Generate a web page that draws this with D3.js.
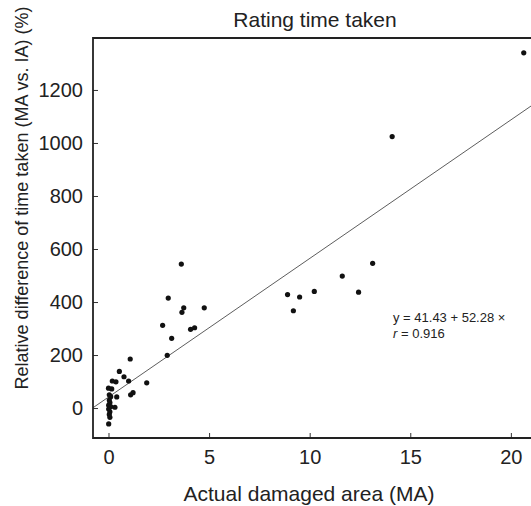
<!DOCTYPE html>
<html>
<head>
<meta charset="utf-8">
<script src="https://cdn.jsdelivr.net/npm/d3@7"></script>
<style>
  body { margin: 0; background: #fff; }
  svg text { font-family: "Liberation Sans", Arial, sans-serif; fill: #222; }
</style>
</head>
<body>
<div id="chart"></div>
<script>
// data
var areaMA = [20.64, 14.1, 3.62, 2.97, 3.74, 3.65, 4.76, 2.69, 4.08, 4.28, 3.14, 2.92,
  1.08, 1.90, 0.54, 0.77, 1.0, 0.19, 0.37, 0.0, 0.16, 1.10, 1.22, 0.41, 0.32,
  0.04, 0.11, 0.04, 0.07, 0.01, 0.11, 0.01, 0.07, 0.04, 0.07, 0.01,
  8.9, 9.19, 9.5, 10.23, 11.62, 12.43, 13.13];
var relDiff = [1340, 1024, 543, 415, 378, 361, 378, 312, 297, 303, 263, 199,
  185, 95, 138, 118, 102, 102, 99, 75, 72, 50, 58, 42, 3,
  50, 43, 30, 21, 11, 5, -4, -14, -24, -35, -60,
  428, 367, 419, 440, 498, 437, 546];
var xTicks = [0, 5, 10, 15, 20];
var yTicks = [0, 200, 400, 600, 800, 1000, 1200];
var fitA = 41.43, fitB = 52.28, fitR = 0.916;

(function () {
  'use strict'

  var W = 531, H = 506;
  var margin = {top: 38, left: 93, bottom: 68};

  var x = d3.scaleLinear().domain([-0.77, 21.1]).range([margin.left, 533]);
  var y = d3.scaleLinear().domain([-113, 1396]).range([H - margin.bottom, margin.top]);

  var svg = d3.select("#chart").append("svg")
    .attr("width", W)
    .attr("height", H);

  var plot = svg.append("g");

  // regression line
  var xd = x.domain();
  plot.append("line")
    .attr("x1", x(xd[0])).attr("y1", y(fitA + fitB * xd[0]))
    .attr("x2", x(xd[1])).attr("y2", y(fitA + fitB * xd[1]))
    .attr("stroke", "#333").attr("stroke-width", 0.8);

  // points
  plot.selectAll(".dot")
    .data(areaMA.map(function (d, i) { return {x: d, y: relDiff[i]}; }))
    .enter().append("circle")
    .attr("class", "dot")
    .attr("cx", function (d) { return x(d.x); })
    .attr("cy", function (d) { return y(d.y); })
    .attr("r", 2.6)
    .attr("fill", "#111");

  // axes, ticks pointing inward
  var gx = svg.append("g")
    .attr("transform", "translate(0," + y.range()[0] + ")")
    .call(d3.axisBottom(x).tickValues(xTicks).tickFormat(d3.format("d"))
      .tickSizeInner(-5).tickSizeOuter(0).tickPadding(12));
  var gy = svg.append("g")
    .attr("transform", "translate(" + margin.left + ",0)")
    .call(d3.axisLeft(y).tickValues(yTicks).tickFormat(d3.format("d"))
      .tickSizeInner(-5).tickSizeOuter(0).tickPadding(10));

  [gx, gy].forEach(function (g) {
    g.select(".domain").remove();
    g.selectAll(".tick line").attr("stroke", "#333");
    g.selectAll(".tick text").style("font-size", "20px").attr("fill", "#222")
      .style("font-family", "'Liberation Sans', Arial, sans-serif");
  });

  // frame (top, left, bottom)
  svg.append("path")
    .attr("d", "M" + x.range()[1] + "," + y.range()[1] + "H" + margin.left +
      "V" + y.range()[0] + "H" + x.range()[1])
    .attr("fill", "none").attr("stroke", "#222").attr("stroke-width", 1.8);

  // title and labels
  svg.append("text")
    .attr("x", 315).attr("y", 27)
    .attr("text-anchor", "middle")
    .style("font-size", "21px")
    .text("Rating time taken");

  svg.append("text")
    .attr("x", 309).attr("y", 501)
    .attr("text-anchor", "middle")
    .style("font-size", "21px")
    .text("Actual damaged area (MA)");

  svg.append("text")
    .attr("transform", "translate(28,198) rotate(-90)")
    .attr("text-anchor", "middle")
    .style("font-size", "18px")
    .text("Relative difference of time taken (MA vs. IA) (%)");

  // fit annotation
  svg.append("text")
    .attr("x", 393).attr("y", 322)
    .style("font-size", "13px")
    .text("y = " + fitA + " + " + fitB + " \u00d7");
  var rt = svg.append("text")
    .attr("x", 393).attr("y", 338)
    .style("font-size", "13px");
  rt.append("tspan").style("font-style", "italic").text("r");
  rt.append("tspan").text(" = " + fitR);

})()
</script>
</body>
</html>
